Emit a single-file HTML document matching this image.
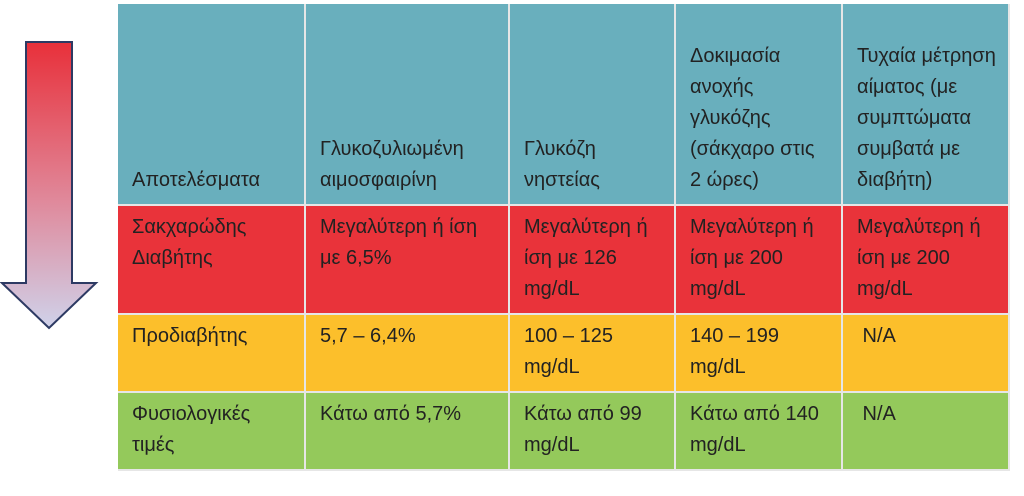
<!DOCTYPE html>
<html><head><meta charset="utf-8"><style>
body{margin:0;width:1024px;height:496px;background:#fff;position:relative;overflow:hidden;font-family:"Liberation Sans","DejaVu Sans",sans-serif;}
.c{position:absolute;box-sizing:border-box;padding:6px 10px 0 14px;font-size:20px;line-height:31px;color:#222;border-right:2px solid #e6e6e6;border-bottom:2px solid #e6e6e6;}
.h{background:#69afbd;display:flex;flex-direction:column;justify-content:flex-end;padding-bottom:8px;}
.r{background:#e9333a;}
.y{background:#fcbf2b;}
.g{background:#94c95b;}
</style></head><body>
<svg style="position:absolute;left:0;top:0" width="110" height="340">
<defs><linearGradient id="ag" x1="0" y1="0" x2="0" y2="1"><stop offset="0" stop-color="#e8303a"/><stop offset="0.55" stop-color="#e0889a"/><stop offset="1" stop-color="#cfd2ea"/></linearGradient></defs>
<polygon points="26,42 72,42 72,283 96,283 49,328 2,283 26,283" fill="url(#ag)" stroke="#2d3a63" stroke-width="2"/>
</svg>
<div>
<div class="c h" style="left:118px;top:4px;width:188px;height:202px">Αποτελέσματα</div>
<div class="c h" style="left:306px;top:4px;width:204px;height:202px">Γλυκοζυλιωμένη αιμοσφαιρίνη</div>
<div class="c h" style="left:510px;top:4px;width:166px;height:202px">Γλυκόζη νηστείας</div>
<div class="c h" style="left:676px;top:4px;width:167px;height:202px">Δοκιμασία ανοχής γλυκόζης (σάκχαρο στις 2 ώρες)</div>
<div class="c h" style="left:843px;top:4px;width:167px;height:202px">Τυχαία μέτρηση αίματος (με συμπτώματα συμβατά με διαβήτη)</div>

<div class="c r" style="left:118px;top:206px;width:188px;height:109px">Σακχαρώδης Διαβήτης</div>
<div class="c r" style="left:306px;top:206px;width:204px;height:109px">Μεγαλύτερη ή ίση με 6,5%</div>
<div class="c r" style="left:510px;top:206px;width:166px;height:109px">Μεγαλύτερη ή ίση με 126 mg/dL</div>
<div class="c r" style="left:676px;top:206px;width:167px;height:109px">Μεγαλύτερη ή ίση με 200 mg/dL</div>
<div class="c r" style="left:843px;top:206px;width:167px;height:109px">Μεγαλύτερη ή ίση με 200 mg/dL</div>

<div class="c y" style="left:118px;top:315px;width:188px;height:78px">Προδιαβήτης</div>
<div class="c y" style="left:306px;top:315px;width:204px;height:78px">5,7 – 6,4%</div>
<div class="c y" style="left:510px;top:315px;width:166px;height:78px">100 – 125 mg/dL</div>
<div class="c y" style="left:676px;top:315px;width:167px;height:78px">140 – 199 mg/dL</div>
<div class="c y" style="left:843px;top:315px;width:167px;height:78px">&nbsp;N/A</div>

<div class="c g" style="left:118px;top:393px;width:188px;height:78px">Φυσιολογικές τιμές</div>
<div class="c g" style="left:306px;top:393px;width:204px;height:78px">Κάτω από 5,7%</div>
<div class="c g" style="left:510px;top:393px;width:166px;height:78px">Κάτω από 99 mg/dL</div>
<div class="c g" style="left:676px;top:393px;width:167px;height:78px">Κάτω από 140 mg/dL</div>
<div class="c g" style="left:843px;top:393px;width:167px;height:78px">&nbsp;N/A</div>
</div>
</body></html>
